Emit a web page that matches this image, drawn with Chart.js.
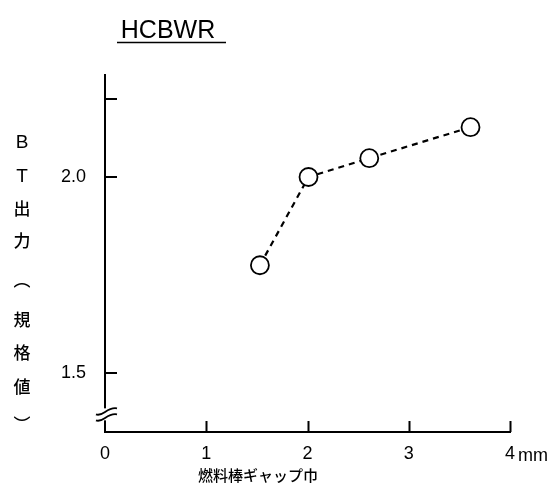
<!DOCTYPE html>
<html>
<head>
<meta charset="utf-8">
<script src="https://cdn.jsdelivr.net/npm/chart.js@4/dist/chart.umd.min.js"></script>
<style>
  html, body { margin: 0; padding: 0; background: #fff; }
  #wrap { width: 553px; height: 494px; }
</style>
</head>
<body>
<div id="wrap"><canvas id="c" width="553" height="494"></canvas></div>
<script>
// Fuel-rod gap width (mm) vs. normalised BT output
const gapWidth  = [1.53, 2.01, 2.61, 3.61];
const btOutput  = [1.775, 2.0, 2.048, 2.127];

const xTickValues = [0, 1, 2, 3, 4];
const xTickLabels = ['0', '1', '2', '3', '4'];
const xUnitLabel  = 'mm';

const yTickValues = [1.5, 2.0, 2.2];
const yTickLabels = ['1.5', '2.0', ''];

const chartTitle = 'HCBWR';
const xAxisTitle = '燃料棒ギャップ巾';
const yAxisTitle = ['B', 'T', '出', '力', '︵', '規', '格', '値', '︶'];

const axisBreakAt = 1.395;

const numFont = "'Liberation Sans Narrow', 'Liberation Sans', Arial, sans-serif";
const cjkFont = "'Noto Sans CJK JP', 'Noto Sans', sans-serif";

const decorations = {
  id: 'decorations',
  afterDraw(chart) {
    const ctx = chart.ctx;
    const xs = chart.scales.x, ys = chart.scales.y;
    const area = chart.chartArea;
    ctx.save();
    ctx.strokeStyle = '#000';
    ctx.fillStyle = '#000';

    // inward tick marks
    ctx.lineWidth = 2;
    ctx.beginPath();
    xs.ticks.forEach(t => {
      if (t.value <= xs.min) return;
      const px = Math.round(xs.getPixelForValue(t.value)) + 0.5;
      ctx.moveTo(px, area.bottom);
      ctx.lineTo(px, area.bottom - 11);
    });
    ys.ticks.forEach(t => {
      const py = Math.round(ys.getPixelForValue(t.value));
      ctx.moveTo(area.left, py);
      ctx.lineTo(area.left + 12, py);
    });
    ctx.stroke();

    // axis break on the value axis
    const by = ys.getPixelForValue(axisBreakAt);
    ctx.fillStyle = '#fff';
    ctx.fillRect(area.left - 3, by - 6, 6, 12);
    ctx.lineWidth = 1.8;
    [-3, 3].forEach(off => {
      ctx.beginPath();
      ctx.moveTo(area.left - 9, by + off + 3);
      ctx.bezierCurveTo(area.left - 2, by + off + 6, area.left + 2, by + off - 5, area.left + 12, by + off - 3);
      ctx.stroke();
    });
    ctx.fillStyle = '#000';

    // title with underline
    ctx.font = "25px 'Liberation Sans', Arial, sans-serif";
    ctx.textAlign = 'center';
    ctx.textBaseline = 'alphabetic';
    ctx.fillText(chartTitle, 168, 38);
    ctx.lineWidth = 1.5;
    ctx.beginPath();
    ctx.moveTo(117, 42.5);
    ctx.lineTo(226, 42.5);
    ctx.stroke();

    // unit after the last x tick label
    ctx.font = '18px ' + numFont;
    ctx.textAlign = 'left';
    ctx.textBaseline = 'middle';
    ctx.fillText(xUnitLabel, xs.getPixelForValue(xs.max) + 8, 456);

    // x-axis title
    ctx.font = '500 15px ' + cjkFont;
    ctx.textAlign = 'center';
    ctx.fillText(xAxisTitle, 258, 475);

    // vertical y-axis title (latin letters in the sans face, kanji in CJK)
    const ySlots = [143, 177, 209, 241, 280, 320, 353, 387, 425];
    yAxisTitle.forEach((ch, i) => {
      ctx.font = /[A-Za-z]/.test(ch) ? '19px ' + numFont : '500 17px ' + cjkFont;
      ctx.fillText(ch, 22, ySlots[i]);
    });

    ctx.restore();
  }
};

new Chart(document.getElementById('c'), {
  type: 'line',
  data: {
    datasets: [{
      data: gapWidth.map((x, i) => ({ x, y: btOutput[i] })),
      borderColor: '#000',
      borderWidth: 2.2,
      borderDash: [6, 5],
      tension: 0,
      fill: false,
      pointRadius: 9,
      pointBorderWidth: 1.8,
      pointBorderColor: '#000',
      pointBackgroundColor: '#fff'
    }]
  },
  options: {
    responsive: false,
    animation: false,
    devicePixelRatio: 1,
    layout: { padding: { top: 75, right: 43, left: 0, bottom: 0 } },
    plugins: { legend: { display: false }, tooltip: { enabled: false }, title: { display: false } },
    scales: {
      x: {
        type: 'linear',
        min: 0, max: 4,
        afterBuildTicks: s => { s.ticks = xTickValues.map(v => ({ value: v })); },
        afterFit: s => { s.height = 62; },
        grid: { display: true, drawOnChartArea: false, drawTicks: false },
        border: { color: '#000', width: 2 },
        ticks: {
          padding: 11,
          color: '#000',
          font: { size: 18, family: numFont },
          callback: v => xTickLabels[xTickValues.indexOf(v)] ?? ''
        }
      },
      y: {
        type: 'linear',
        min: 1.35, max: 2.26,
        afterBuildTicks: s => { s.ticks = yTickValues.map(v => ({ value: v })); },
        afterFit: s => { s.width = 105; },
        grid: { display: true, drawOnChartArea: false, drawTicks: false },
        border: { color: '#000', width: 2 },
        ticks: {
          padding: 19,
          color: '#000',
          font: { size: 18, family: numFont },
          callback: v => yTickLabels[yTickValues.indexOf(v)] ?? ''
        }
      }
    }
  },
  plugins: [decorations]
});
</script>
</body>
</html>
